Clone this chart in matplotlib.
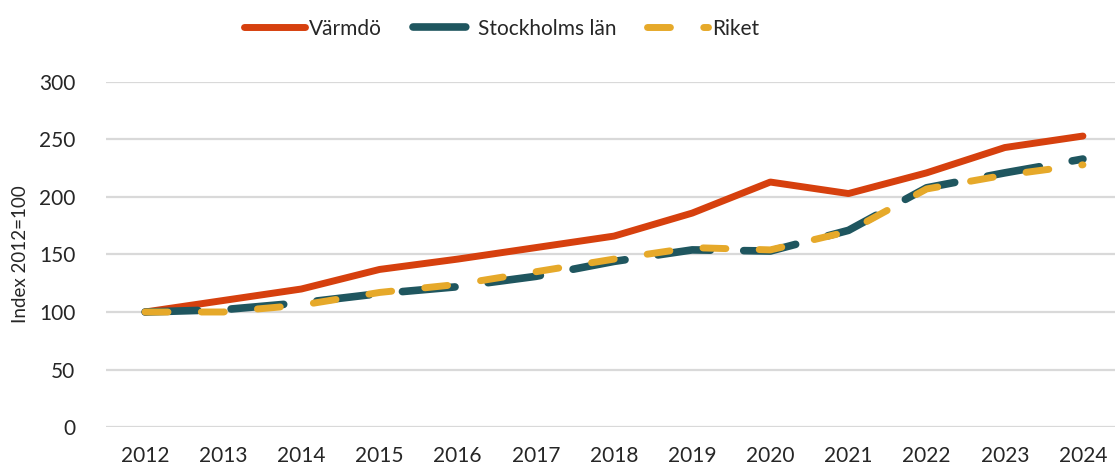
import matplotlib
matplotlib.use("Agg")
import matplotlib.pyplot as plt

years = [2012, 2013, 2014, 2015, 2016, 2017, 2018, 2019, 2020, 2021, 2022, 2023, 2024]
varmdo = [100, 110, 120, 137, 146, 156, 166, 186, 213, 203, 221, 243, 253]
stockholm = [100, 102, 108, 116, 122, 131, 144, 154, 153, 171, 208, 221, 233]
riket = [100, 100, 106, 117, 124, 135, 146, 156, 154, 170, 207, 219, 228]
series_names = ["Värmdö", "Stockholms län", "Riket"]
ylabel = "Index 2012=100"

plt.rcParams['font.family'] = ['Lato', 'DejaVu Sans']
plt.rcParams['lines.scale_dashes'] = False

W, H = 1115, 468
fig = plt.figure(figsize=(W / 100, H / 100), dpi=100)
left_px, right_px = 106, 1122
bot_px, top_px = 427, 82
ax = fig.add_axes([left_px / W, (H - bot_px) / H, (right_px - left_px) / W, (bot_px - top_px) / H])

c_red = "#D6400E"
c_teal = "#1F565F"
c_yel = "#E6A92A"

ax.plot(years, varmdo, color=c_red, lw=5, solid_capstyle='round', solid_joinstyle='round',
        label=series_names[0], zorder=3)
ax.plot(years, stockholm, color=c_teal, lw=5.5, dashes=(38, 24), dash_capstyle='round',
        dash_joinstyle='round', label=series_names[1], zorder=4)
ax.plot(years, riket, color=c_yel, lw=5, dashes=(16.5, 24), dash_capstyle='round',
        dash_joinstyle='round', label=series_names[2], zorder=5)

ax.set_xlim(2011.5, 2024.5)
ax.set_ylim(0, 300)
ax.set_yticks(range(0, 301, 50))
ax.set_xticks(years)
ax.grid(axis='y', color='#D9D9D9', lw=1.6, zorder=0)
ax.set_axisbelow(True)
for s in ax.spines.values():
    s.set_visible(False)
ax.tick_params(axis='both', length=0, labelsize=15, colors='#262626')
ax.tick_params(axis='y', pad=22)
ax.tick_params(axis='x', pad=14)
ax.set_ylabel(ylabel, fontsize=13.5, color='#262626')
ax.yaxis.set_label_coords(-77 / (right_px - left_px), 0.5)

fig.legend(loc='upper center', bbox_to_anchor=(0.45, 1.0), ncol=3, frameon=False,
           fontsize=15, handlelength=2.9, handletextpad=0.2, columnspacing=1.5,
           labelcolor='#262626')

fig.savefig("out.png", dpi=100)
